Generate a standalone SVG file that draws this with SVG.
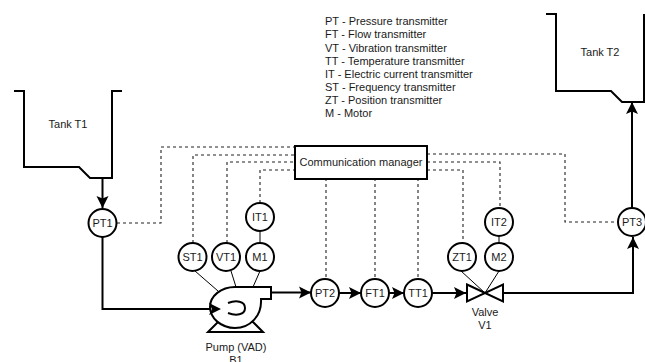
<svg xmlns="http://www.w3.org/2000/svg" width="645" height="362" viewBox="0 0 645 362">
<style>
text{font-family:"Liberation Sans",Arial,sans-serif;font-size:11px;fill:#1a1a1a;text-anchor:middle}
.s{fill:none;stroke:#000;stroke-width:2}
.d{fill:none;stroke:#222;stroke-width:1.100;stroke-dasharray:3 3}
.t{fill:none;stroke:#000;stroke-width:1}
.c{fill:#fff;stroke:#000;stroke-width:2}
.l text{text-anchor:start}
</style>
<defs><marker id="a" markerUnits="userSpaceOnUse" markerWidth="14" markerHeight="14" refX="12" refY="7" orient="auto"><path d="M0 1L12 7L0 13L2.500 7Z" fill="#000"/></marker></defs>
<g id="connectors">
<path class="s" d="M102.500 178V208" marker-end="url(#a)"/>
<path class="s" d="M102.500 237V309H215"/>
<path class="s" d="M272 292.500H311" marker-end="url(#a)"/>
<path class="s" d="M339 293H361" marker-end="url(#a)"/>
<path class="s" d="M389 293H404" marker-end="url(#a)"/>
<path class="s" d="M432 293H466" marker-end="url(#a)"/>
<path class="s" d="M503 293H633V237" marker-end="url(#a)"/>
<path class="s" d="M632 208V102" marker-end="url(#a)"/>
<path class="d" d="M117 223H161V147H295M193 243V155H295M227 243V162H295M260 203V170H295"/>
<path class="d" d="M326 178V279M375 178V279M418 178V279M427 154H565V222H618M427 162H500V208M427 170H463V243"/>
<path class="t" d="M260 231V243M499 236V243M195 271L218 291M231 271L236 287M260 271L253 287M461 271L485 293M499 271L485 293"/>
</g>
<g id="tank-t1"><path class="s" d="M14 91H24V167H79L90 178H112V91H122"/><text x="68" y="128">Tank T1</text></g>
<g id="tank-t2"><path class="s" d="M546 14H556V91H611L622 102H644V14"/><text x="600" y="56">Tank T2</text></g>
<g id="legend" class="l">
<text x="325" y="25">PT - Pressure transmitter</text>
<text x="325" y="38">FT - Flow transmitter</text>
<text x="325" y="51.500">VT - Vibration transmitter</text>
<text x="325" y="64.500">TT - Temperature transmitter</text>
<text x="325" y="77.500">IT - Electric current transmitter</text>
<text x="325" y="90.500">ST - Frequency transmitter</text>
<text x="325" y="104">ZT - Position transmitter</text>
<text x="325" y="117">M - Motor</text>
</g>
<g id="manager"><rect x="295" y="146" width="132" height="33" fill="#fff" stroke="#000" stroke-width="2"/><text x="361" y="166">Communication manager</text></g>
<g id="pt1"><circle class="c" cx="102.500" cy="223" r="14"/><text x="102.500" y="227">PT1</text></g>
<g id="st1"><circle class="c" cx="192.500" cy="257" r="14"/><text x="192.500" y="261">ST1</text></g>
<g id="vt1"><circle class="c" cx="226" cy="257" r="14"/><text x="226" y="261">VT1</text></g>
<g id="m1"><circle class="c" cx="260" cy="257" r="14"/><text x="260" y="261">M1</text></g>
<g id="it1"><circle class="c" cx="260" cy="217" r="14"/><text x="260" y="221">IT1</text></g>
<g id="pt2"><circle class="c" cx="325" cy="293" r="14"/><text x="325" y="297">PT2</text></g>
<g id="ft1"><circle class="c" cx="375" cy="293" r="14"/><text x="375" y="297">FT1</text></g>
<g id="tt1"><circle class="c" cx="418" cy="293" r="14"/><text x="418" y="297">TT1</text></g>
<g id="zt1"><circle class="c" cx="462" cy="257" r="14"/><text x="462" y="261">ZT1</text></g>
<g id="m2"><circle class="c" cx="499" cy="257" r="14"/><text x="499" y="261">M2</text></g>
<g id="it2"><circle class="c" cx="499" cy="222" r="14"/><text x="499" y="226">IT2</text></g>
<g id="pt3"><circle class="c" cx="632" cy="222" r="14"/><text x="632" y="226">PT3</text></g>
<g id="pump">
<path class="c" d="M208 332H263L253 322H218Z"/>
<path class="c" d="M235 287H271V299H261C262 316 250 328 235 328C221 328 210 318 210 307C210 296 221 287 235 287Z"/>
<path class="s" d="M228 303C236 300 245 301 245 308C245 315 236 316 228 313"/>
<path d="M209 303L221 309L209 315L212 309Z" fill="#000"/>
<text x="236" y="351">Pump (VAD)</text><text x="236" y="364">B1</text>
</g>
<g id="valve">
<path class="c" d="M467 284.500L503 301.500V284.500L467 301.500Z"/>
<text x="485" y="316">Valve</text><text x="485" y="329">V1</text>
</g>
</svg>
